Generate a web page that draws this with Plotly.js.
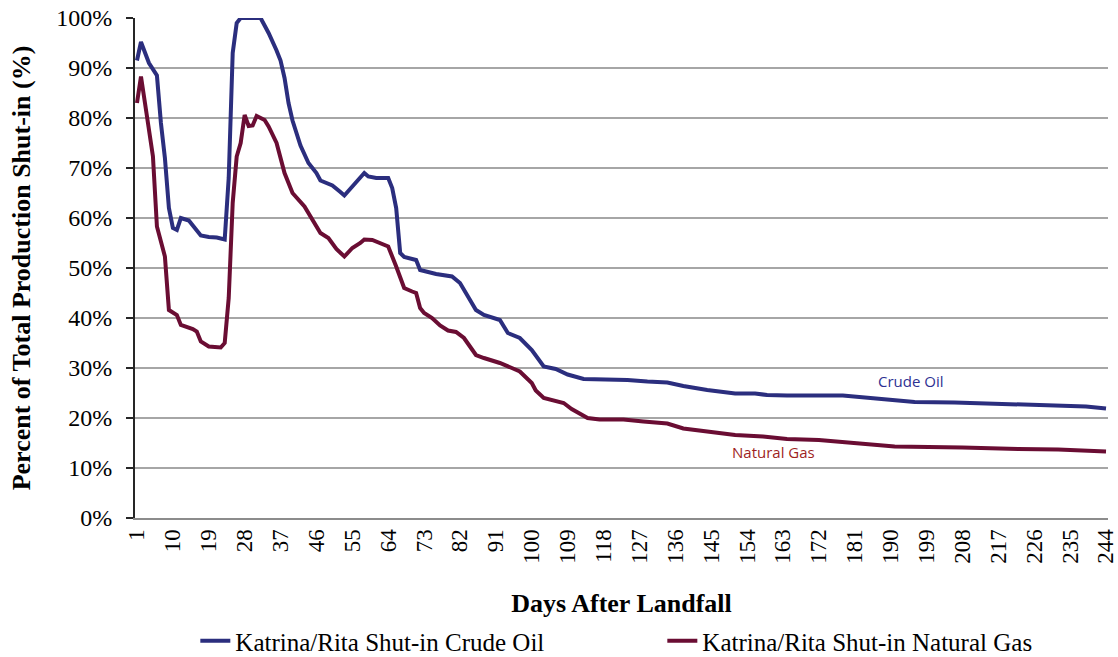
<!DOCTYPE html>
<html>
<head>
<meta charset="utf-8">
<script src="https://cdn.plot.ly/plotly-3.0.1.min.js"></script>
<style>html,body{margin:0;padding:0;background:#fff;}#chart{width:1118px;height:657px;}</style>
</head>
<body>
<div id="chart"></div>
<script>
// Crude oil shut-in (% of total production) by day after landfall
const oilDays = [1,2,4,6,7,8,9,10,11,12,14,17,19,21,23,24,25,26,27,32,33,34,36,37,38,39,40,42,44,46,47,50,52,53,55,57,58,59,61,64,65,66,67,68,71,72,76,80,82,84,86,88,92,94,97,100,103,106,109,113,119,124,129,134,138,144,151,156,159,164,178,181,185,190,196,206,216,224,231,239,244];
const oilPct  = [91.5,95.2,91,88.5,79,72,62,58,57.6,60,59.5,56.5,56.2,56.1,55.7,68,93,99,100,100,98.5,97,93.5,91.5,88,83,79.5,74.5,71,69,67.5,66.5,65.2,64.5,66.3,68,69,68.3,68,68,66,62,53,52.2,51.6,49.6,48.8,48.3,47,44.3,41.6,40.6,39.6,37,36,33.6,30.3,29.8,28.7,27.8,27.8,27.6,27.3,27.1,26.4,25.6,24.9,24.9,24.6,24.5,24.5,24.3,23.9,23.5,23.2,23.1,22.9,22.8,22.5,22.3,21.9];

// Natural gas shut-in (% of total production) by day after landfall
const gasDays = [1,2,3,5,6,8,9,11,12,15,16,17,19,22,23,24,25,26,27,28,29,30,31,33,34,36,38,40,43,45,47,49,51,53,55,57,58,60,62,64,66,68,70,71,72,73,75,77,79,81,83,86,88,92,95,97,100,101,103,108,110,114,117,123,128,134,138,144,151,158,164,172,180,186,191,208,215,222,232,239,244];
const gasPct  = [83,88.3,83,72.3,58.3,52.3,41.6,40.6,38.6,37.8,37.3,35.3,34.3,34.1,35,44,63,72.3,75,80.6,78.4,78.5,80.4,79.6,78.3,75,69,65,62.3,59.8,57,56,53.8,52.3,54,55,55.7,55.6,55,54.3,50.3,46,45.3,45,42,41,40,38.5,37.5,37.2,36,32.6,32,31,30,29.3,27,25.5,24,23,21.8,20,19.7,19.7,19.3,18.9,17.9,17.3,16.6,16.3,15.8,15.6,15.1,14.6,14.3,14.1,13.9,13.8,13.7,13.4,13.3];

const xTicks = [1,10,19,28,37,46,55,64,73,82,91,100,109,118,127,136,145,154,163,172,181,190,199,208,217,226,235,244];
const yTicks = [0,10,20,30,40,50,60,70,80,90,100];
const yTickText = ['0%','10%','20%','30%','40%','50%','60%','70%','80%','90%','100%'];

const oilName = 'Katrina/Rita Shut-in Crude Oil';
const gasName = 'Katrina/Rita Shut-in Natural Gas';
const oilColor = '#2B2E7E';
const gasColor = '#6A0D33';

const serif = 'Liberation Serif, Times New Roman, serif';

const traces = [
  {x: oilDays, y: oilPct, name: oilName, type: 'scatter', mode: 'lines',
   line: {color: oilColor, width: 4}},
  {x: gasDays, y: gasPct, name: gasName, type: 'scatter', mode: 'lines',
   line: {color: gasColor, width: 4}}
];

const layout = {
  width: 1118, height: 657,
  margin: {l: 135, r: 10, t: 18, b: 139, autoexpand: false},
  paper_bgcolor: '#fff', plot_bgcolor: '#fff',
  font: {family: serif, size: 24, color: '#000'},
  showlegend: true,
  legend: {orientation: 'h', x: 0.062, y: -0.2, xanchor: 'left', yanchor: 'top',
           font: {family: serif, size: 25, color: '#000'}, entrywidth: 422, itemwidth: 30,
           tracegroupgap: 0},
  xaxis: {
    range: [0.5, 244.5], tickmode: 'array', tickvals: xTicks, ticktext: xTicks.map(String),
    tickangle: -90, showgrid: false, zeroline: false, showline: true, linecolor: '#8C8C8C', linewidth: 2,
    ticks: '', automargin: false, ticklabeloverflow: 'allow', tickfont: {family: serif, size: 23, color: '#000'},
    title: {text: '<b>Days After Landfall</b>', font: {family: serif, size: 26, color: '#000'}, standoff: 31}
  },
  yaxis: {
    range: [0, 100], tickmode: 'array', tickvals: yTicks, ticktext: yTickText,
    showgrid: true, gridcolor: '#A6A6A6', gridwidth: 2, zeroline: false, automargin: false,
    showline: true, linecolor: '#262626', linewidth: 2, ticks: 'outside', ticklen: 7, tickcolor: '#262626', tickwidth: 2,
    ticklabelstandoff: 9,
    tickfont: {family: serif, size: 24, color: '#000'},
    title: {text: '<b>Percent of Total Production Shut-in (%)</b>', font: {family: serif, size: 26, color: '#000'}, standoff: 18}
  },
  annotations: [
    {x: 195, y: 27.4, xref: 'x', yref: 'y', text: 'Crude Oil', showarrow: false,
     font: {family: 'Open Sans, sans-serif', size: 15, color: '#2E3192'}},
    {x: 160.5, y: 13.2, xref: 'x', yref: 'y', text: 'Natural Gas', showarrow: false,
     font: {family: 'Open Sans, sans-serif', size: 15, color: '#9E1F23'}}
  ]
};

Plotly.newPlot('chart', traces, layout, {displayModeBar: false, staticPlot: true});
</script>
</body>
</html>
